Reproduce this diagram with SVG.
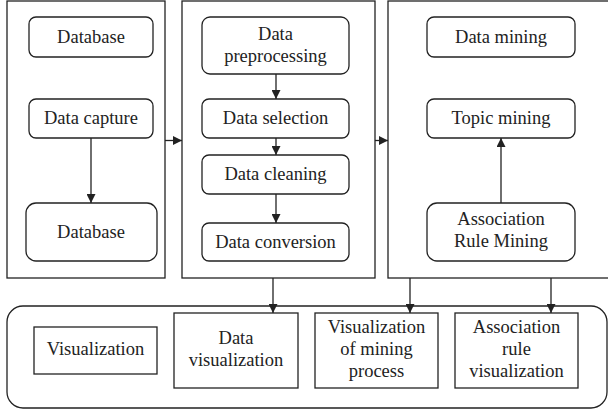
<svg xmlns="http://www.w3.org/2000/svg" width="608" height="410" viewBox="0 0 608 410">
<style>
.panel{fill:#fff;stroke:#222;stroke-width:1.3}
.box{fill:#fff;stroke:#222;stroke-width:1.3}
.t{font-family:'Liberation Serif','Times New Roman',serif;font-size:18.5px;fill:#222;text-anchor:middle}
.c{stroke:#222;stroke-width:1.3;fill:none;marker-end:url(#ah)}
</style>
<defs>
<marker id="ah" viewBox="0 0 10 10" refX="10" refY="5" markerWidth="9" markerHeight="9" markerUnits="userSpaceOnUse" orient="auto">
<path d="M0,0 L10,5 L0,10 z" fill="#222"/>
</marker>
</defs>
<rect width="608" height="410" fill="#fff"/>
<g id="panel1"><rect class="panel" x="7" y="1" width="158" height="277"/></g>
<g id="panel2"><rect class="panel" x="182" y="1" width="193" height="277"/></g>
<g id="panel3"><rect class="panel" x="388" y="1" width="230" height="277"/></g>
<g id="panel4"><rect class="panel" x="7" y="306" width="600" height="102" rx="16"/></g>

<g id="db1"><rect class="box" x="29" y="17" width="124" height="40" rx="7"/><text class="t" x="91" y="43">Database</text></g>
<g id="capture"><rect class="box" x="29" y="99" width="124" height="39" rx="7"/><text class="t" x="91" y="124">Data capture</text></g>
<g id="db2"><rect class="box" x="26" y="203" width="131" height="58" rx="10"/><text class="t" x="91" y="238">Database</text></g>

<g id="prep"><rect class="box" x="202" y="17" width="147" height="57" rx="8"/><text class="t" x="275.5" y="40">Data</text><text class="t" x="275.5" y="62">preprocessing</text></g>
<g id="select"><rect class="box" x="202" y="99" width="147" height="39" rx="7"/><text class="t" x="275.5" y="124">Data selection</text></g>
<g id="clean"><rect class="box" x="202" y="155" width="147" height="39" rx="7"/><text class="t" x="275.5" y="180">Data cleaning</text></g>
<g id="convert"><rect class="box" x="202" y="223" width="147" height="38" rx="7"/><text class="t" x="275.5" y="248">Data conversion</text></g>

<g id="mining"><rect class="box" x="427" y="17" width="148" height="40" rx="7"/><text class="t" x="501" y="43">Data mining</text></g>
<g id="topic"><rect class="box" x="427" y="99" width="148" height="39" rx="7"/><text class="t" x="501" y="124">Topic mining</text></g>
<g id="assoc"><rect class="box" x="427" y="203" width="148" height="58" rx="10"/><text class="t" x="501" y="225">Association</text><text class="t" x="501" y="247">Rule Mining</text></g>

<g id="vis"><rect class="box" x="34" y="327" width="123" height="47"/><text class="t" x="95.5" y="355">Visualization</text></g>
<g id="datavis"><rect class="box" x="174" y="313" width="124" height="75"/><text class="t" x="236" y="344">Data</text><text class="t" x="236" y="366">visualization</text></g>
<g id="minevis"><rect class="box" x="315" y="313" width="123" height="75"/><text class="t" x="376.5" y="333">Visualization</text><text class="t" x="376.5" y="355">of mining</text><text class="t" x="376.5" y="377">process</text></g>
<g id="assocvis"><rect class="box" x="455" y="313" width="123" height="75"/><text class="t" x="516.5" y="333">Association</text><text class="t" x="516.5" y="355">rule</text><text class="t" x="516.5" y="377">visualization</text></g>

<g id="connectors">
<line class="c" x1="91" y1="138" x2="91" y2="203"/>
<line class="c" x1="165" y1="140.5" x2="182" y2="140.5"/>
<line class="c" x1="375" y1="140.5" x2="388" y2="140.5"/>
<line class="c" x1="276" y1="74" x2="276" y2="99"/>
<line class="c" x1="276" y1="138" x2="276" y2="155"/>
<line class="c" x1="276" y1="194" x2="276" y2="223"/>
<line class="c" x1="501" y1="203" x2="501" y2="138"/>
<line class="c" x1="273" y1="278" x2="273" y2="313"/>
<line class="c" x1="410" y1="278" x2="410" y2="313"/>
<line class="c" x1="551" y1="278" x2="551" y2="313"/>
</g>
</svg>
